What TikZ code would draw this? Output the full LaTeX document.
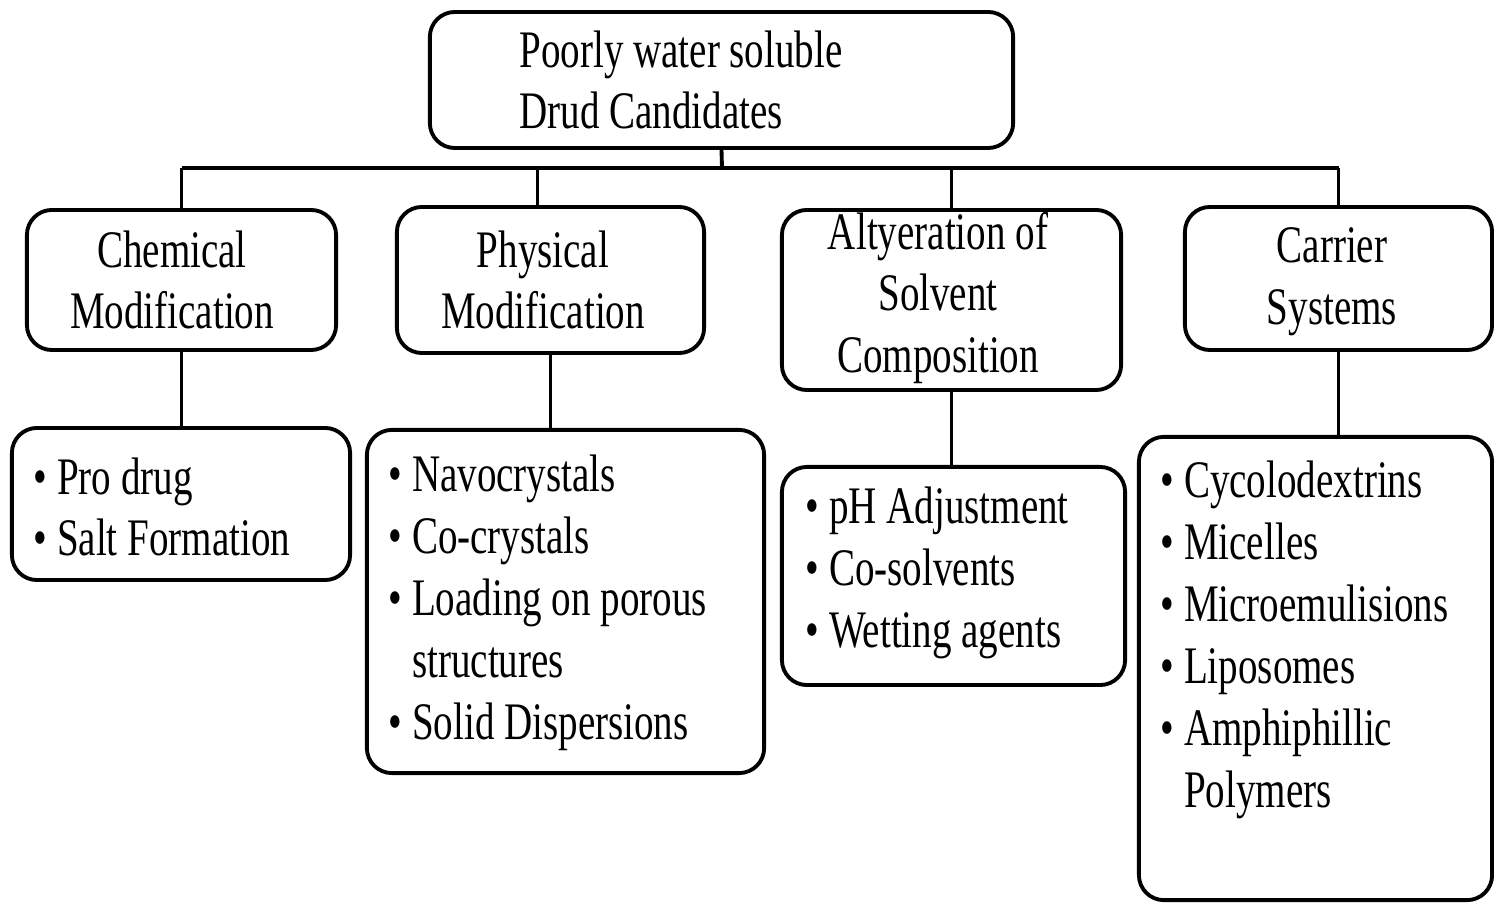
\documentclass[tikz,border=0pt]{standalone}
\usepackage{fontspec}
\setmainfont{Liberation Serif}[FakeStretch=0.74]
\usetikzlibrary{calc}
\tikzset{
  box/.style={draw=black, line width=1.1pt, rounded corners=0.25cm, inner sep=0pt, fill=none},
  txt/.style={inner sep=0pt, align=left, font=\fontsize{15}{17.6}\selectfont},
  ctxt/.style={inner sep=0pt, align=center, font=\fontsize{15}{17.6}\selectfont},
  conn/.style={draw=black, line width=1.1pt}
}
\newcommand{\bul}{\textbullet\ }
\begin{document}
\begin{tikzpicture}[x=0.01cm, y=-0.01cm]
\useasboundingbox (0,0) rectangle (1494,904);
% boxes
\node[box, minimum width=5.83cm, minimum height=1.36cm] (top) at (721.5,80) {};
\node[box, minimum width=3.09cm, minimum height=1.40cm] (chem) at (181.5,280) {};
\node[box, minimum width=3.07cm, minimum height=1.46cm] (phys) at (550.5,280) {};
\node[box, minimum width=3.39cm, minimum height=1.80cm] (alter) at (951.5,300) {};
\node[box, minimum width=3.07cm, minimum height=1.43cm] (carr) at (1338.5,278.5) {};
\node[box, minimum width=3.38cm, minimum height=1.52cm] (pro) at (181,504) {};
\node[box, minimum width=3.97cm, minimum height=3.43cm] (navo) at (565.5,601.5) {};
\node[box, minimum width=3.43cm, minimum height=2.18cm] (ph) at (953.5,576) {};
\node[box, minimum width=3.53cm, minimum height=4.63cm] (cyc) at (1315.5,668.5) {};
% texts
\node[txt] (ttop) at (681,80) {Poorly water soluble\\Drud Candidates};
\node[ctxt] (tchem) at (172,280) {Chemical\\Modification};
\node[ctxt] (tphys) at (543,280) {Physical\\Modification};
\node[ctxt] (talter) at (938,298) {Altyeration of\\Solvent\\Composition};
\node[ctxt] (tcarr) at (1332,282) {Carrier\\Systems};
\node[txt, anchor=west] (tpro) at (33,507) {\bul Pro drug\\\bul Salt Formation};
\node[txt, anchor=west] (tnavo) at (388,603) {\bul Navocrystals\\\bul Co-crystals\\\bul Loading on porous\\\phantom{\bul}structures\\\bul Solid Dispersions};
\node[txt, anchor=west] (tph) at (805,573) {\bul pH Adjustment\\\bul Co-solvents\\\bul Wetting agents};
\node[txt, anchor=west] (tcyc) at (1160,640) {\bul Cycolodextrins\\\bul Micelles\\\bul Microemulisions\\\bul Liposomes\\\bul Amphiphillic\\\phantom{\bul}Polymers};
% connectors
\coordinate (bus) at (722,168);
\draw[conn] (top.south) -- (bus);
\draw[conn] (chem.north |- bus) -- (carr.north |- bus);
\draw[conn] (chem.north) -- (chem.north |- bus);
\draw[conn] ($(phys.north)+(-13,0)$) -- ($(phys.north |- bus)+(-13,0)$);
\draw[conn] (alter.north) -- (alter.north |- bus);
\draw[conn] (carr.north) -- (carr.north |- bus);
\draw[conn] (chem.south) -- (chem.south |- pro.north);
\draw[conn] (phys.south) -- (phys.south |- navo.north);
\draw[conn] (alter.south) -- (alter.south |- ph.north);
\draw[conn] (carr.south) -- (carr.south |- cyc.north);
\end{tikzpicture}
\end{document}
